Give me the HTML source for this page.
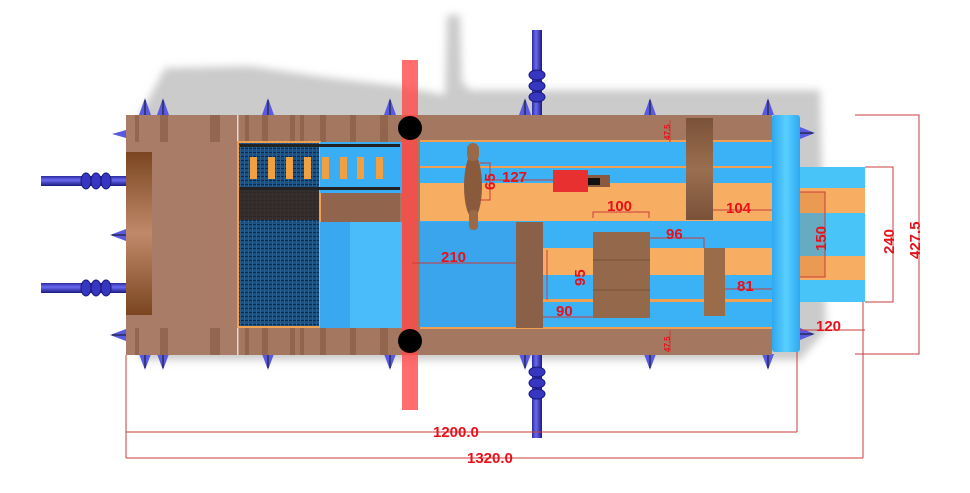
<!DOCTYPE html>
<html><head><meta charset="utf-8"><style>
html,body{margin:0;padding:0;background:#fff;width:970px;height:493px;overflow:hidden}
svg{display:block}
text{font-family:"Liberation Sans",sans-serif;font-weight:bold;fill:#e8101a}
</style></head><body>
<svg width="970" height="493" viewBox="0 0 970 493" xmlns="http://www.w3.org/2000/svg">
<defs>
<filter id="bl" x="-20%" y="-20%" width="140%" height="140%"><feGaussianBlur stdDeviation="4"/></filter>
<linearGradient id="pipeH" x1="0" y1="0" x2="0" y2="1"><stop offset="0" stop-color="#2a2aa0"/><stop offset=".4" stop-color="#6a6af0"/><stop offset="1" stop-color="#1a1a80"/></linearGradient>
<linearGradient id="pipeV" x1="0" y1="0" x2="1" y2="0"><stop offset="0" stop-color="#2a2aa0"/><stop offset=".4" stop-color="#6a6af0"/><stop offset="1" stop-color="#1a1a80"/></linearGradient>
<linearGradient id="curve" x1="0" y1="0" x2="0" y2="1"><stop offset="0" stop-color="#7a4520"/><stop offset=".5" stop-color="#c08a6a"/><stop offset="1" stop-color="#7a4520"/></linearGradient>
<linearGradient id="wall" x1="0" y1="0" x2="1" y2="0"><stop offset="0" stop-color="#2fa8f0"/><stop offset=".5" stop-color="#5ad0ff"/><stop offset="1" stop-color="#2fa8f0"/></linearGradient>
<linearGradient id="wood" x1="0" y1="0" x2="0" y2="1"><stop offset="0" stop-color="#7a5238"/><stop offset=".5" stop-color="#9a6e50"/><stop offset="1" stop-color="#7a5238"/></linearGradient>
<pattern id="net" width="4" height="4" patternUnits="userSpaceOnUse"><rect width="4" height="4" fill="#1d4f80"/><rect width="4" height="1" fill="#0c2a48"/><rect width="1" height="4" fill="#2a6090"/></pattern>
</defs>

<g filter="url(#bl)" fill="#cbcbcb">
<path d="M140 115 L165 68 L250 66 L330 78 L400 86 L445 95 L447 15 L460 15 L462 82 L470 90 L820 90 L826 330 L800 360 L140 360 Z"/>
</g>

<rect x="41" y="176" width="86" height="10" fill="url(#pipeH)"/>
<rect x="41" y="283" width="86" height="10" fill="url(#pipeH)"/>
<g fill="#3636c0" stroke="#1a1a80" stroke-width="1">
<ellipse cx="86" cy="181" rx="5" ry="8"/><ellipse cx="96" cy="181" rx="5" ry="8"/><ellipse cx="106" cy="181" rx="5" ry="8"/>
<ellipse cx="86" cy="288" rx="5" ry="8"/><ellipse cx="96" cy="288" rx="5" ry="8"/><ellipse cx="106" cy="288" rx="5" ry="8"/>
</g>

<rect x="532" y="30" width="10" height="90" fill="url(#pipeV)"/>
<rect x="532" y="350" width="10" height="88" fill="url(#pipeV)"/>
<g fill="#3636c0" stroke="#1a1a80" stroke-width="1">
<ellipse cx="537" cy="75" rx="8" ry="5"/><ellipse cx="537" cy="86" rx="8" ry="5"/><ellipse cx="537" cy="97" rx="8" ry="5"/>
<ellipse cx="537" cy="372" rx="8" ry="5"/><ellipse cx="537" cy="383" rx="8" ry="5"/><ellipse cx="537" cy="394" rx="8" ry="5"/>
</g>

<g fill="#5a5ae0">
<path d="M139 115 L145 98 L151 115Z"/><path d="M157 115 L163 98 L169 115Z"/><path d="M262 115 L268 98 L274 115Z"/><path d="M384 115 L390 98 L396 115Z"/><path d="M519 115 L525 98 L531 115Z"/><path d="M644 115 L650 98 L656 115Z"/><path d="M762 115 L768 98 L774 115Z"/>
<path d="M139 354 L145 370 L151 354Z"/><path d="M157 354 L163 370 L169 354Z"/><path d="M262 354 L268 370 L274 354Z"/><path d="M384 354 L390 370 L396 354Z"/><path d="M519 354 L525 370 L531 354Z"/><path d="M644 354 L650 370 L656 354Z"/><path d="M762 354 L768 370 L774 354Z"/>
<path d="M126 229 L110 235 L126 241Z"/><path d="M126 329 L110 335 L126 341Z"/><path d="M126 130 L112 134 L126 138Z"/>
<path d="M800 127 L815 133 L800 139Z"/><path d="M800 328 L815 334 L800 340Z"/>
</g>
<g stroke="#111" stroke-width="1">
<path d="M145 100V115M163 100V115M268 100V115M390 100V115M525 100V115M650 100V115M768 100V115"/>
<path d="M145 354V368M163 354V368M268 354V368M390 354V368M525 354V368M650 354V368M768 354V368"/>
<path d="M112 235H126M112 335H126M800 133H813M800 334H813"/>
</g>

<rect x="126" y="115" width="646" height="240" fill="#a47860"/>
<rect x="126" y="115" width="112" height="240" fill="#a87c66"/>
<g fill="#8a5e46" opacity=".7">
<rect x="135" y="115" width="4" height="27"/><rect x="160" y="115" width="8" height="27"/><rect x="210" y="115" width="10" height="27"/>
<rect x="245" y="115" width="4" height="27"/><rect x="262" y="115" width="6" height="27"/><rect x="290" y="115" width="5" height="27"/><rect x="300" y="115" width="4" height="27"/><rect x="320" y="115" width="6" height="27"/><rect x="350" y="115" width="6" height="27"/><rect x="380" y="115" width="8" height="27"/>
<rect x="135" y="328" width="4" height="27"/><rect x="160" y="328" width="8" height="27"/><rect x="210" y="328" width="10" height="27"/>
<rect x="245" y="328" width="4" height="27"/><rect x="262" y="328" width="6" height="27"/><rect x="290" y="328" width="5" height="27"/><rect x="300" y="328" width="4" height="27"/><rect x="320" y="328" width="6" height="27"/><rect x="350" y="328" width="6" height="27"/><rect x="380" y="328" width="8" height="27"/>
<rect x="320" y="193" width="80" height="29"/>
</g>
<rect x="237" y="115" width="1.5" height="240" fill="#e8d8d0"/>
<rect x="126" y="152" width="26" height="163" fill="url(#curve)"/>

<rect x="238" y="142" width="82" height="185" fill="url(#net)" stroke="#f0a050" stroke-width="2"/>
<rect x="239" y="190" width="80" height="30" fill="#3a2418" opacity=".8"/>
<rect x="320" y="142" width="82" height="51" fill="#3aaef4"/>
<rect x="320" y="222" width="82" height="106" fill="#3aa8f0"/>
<rect x="350" y="222" width="52" height="106" fill="#50c0fc" opacity=".8"/>
<g fill="#f0a040">
<rect x="250" y="157" width="7" height="22"/><rect x="268" y="157" width="7" height="22"/><rect x="286" y="157" width="7" height="22"/><rect x="304" y="157" width="7" height="22"/>
<rect x="322" y="157" width="7" height="22"/><rect x="340" y="157" width="7" height="22"/><rect x="357" y="157" width="7" height="22"/><rect x="376" y="157" width="7" height="22"/>
</g>
<g fill="#222"><rect x="240" y="144" width="160" height="3"/><rect x="240" y="187" width="160" height="3"/></g>

<rect x="420" y="142" width="352" height="186" fill="#3cb2f6"/>
<rect x="420" y="183" width="352" height="38" fill="#f8ae62"/>
<rect x="420" y="166" width="352" height="2" fill="#f0a050"/>
<rect x="543" y="248" width="229" height="27" fill="#f8ae62"/>
<rect x="543" y="299" width="229" height="3" fill="#f0a050"/>
<rect x="420" y="222" width="96" height="106" fill="#3aa4ec"/>
<rect x="420" y="115" width="352" height="27" fill="#a47860"/>
<rect x="420" y="328" width="352" height="27" fill="#a47860"/>
<rect x="420" y="140" width="352" height="2" fill="#f0a050"/>
<rect x="420" y="327" width="352" height="2" fill="#f0a050"/>
<rect x="686" y="118" width="27" height="102" fill="url(#wood)"/>
<rect x="516" y="222" width="27" height="106" fill="#8a6048"/>
<rect x="593" y="232" width="57" height="86" fill="#94684a"/>
<g stroke="#7a5238" stroke-width="1"><line x1="593" y1="260" x2="650" y2="260"/><line x1="593" y1="290" x2="650" y2="290"/></g>
<rect x="704" y="248" width="21" height="68" fill="#9a6c4a"/>
<rect x="553" y="170" width="35" height="22" fill="#e83030"/>
<rect x="588" y="175" width="22" height="12" fill="#8a5a40"/>
<rect x="588" y="178" width="12" height="7" fill="#111"/>
<ellipse cx="473" cy="186" rx="9" ry="32" fill="#8a5a3c"/>
<rect x="467" y="143" width="12" height="18" rx="6" fill="#9a6a48"/>
<rect x="469" y="210" width="9" height="20" rx="4" fill="#9a6a48"/>

<rect x="402" y="60" width="16" height="350" fill="#ff4848" opacity=".8"/>
<circle cx="410" cy="128" r="12" fill="#000"/>
<circle cx="410" cy="341" r="12" fill="#000"/>

<rect x="800" y="167" width="65" height="135" fill="#48c4f8"/>
<rect x="800" y="188" width="65" height="25" fill="#f8ae62"/>
<rect x="800" y="256" width="65" height="24" fill="#f8ae62"/>
<rect x="800" y="192" width="25" height="85" fill="#c06020" opacity=".25"/>
<rect x="772" y="115" width="28" height="237" fill="url(#wall)" rx="3"/>

<g stroke="#c83c3c" stroke-width="1" fill="none">
<path d="M126 355 V458 M797 352 V432 M863 302 V458 M126 432 H797 M126 458 H863"/>
<path d="M855 115 H919 V354 H855"/>
<path d="M865 167 H893 V302 H865"/>
<path d="M800 192 H825 V277 H800"/>
<path d="M800 330 H865"/>
<path d="M412 263 H516"/>
<path d="M543 317 H593 M547 250 V300 M593 218 V212 H649 V218 M650 238 H704 V248 M725 289 H772 M713 210 H772 M484 180 H553 M480 163 H490 V200 H480"/>
<path d="M670 120 V142 M670 330 V352"/>
</g>
<g font-size="15">
<text x="433" y="437">1200.0</text>
<text x="467" y="463">1320.0</text>
<text x="441" y="262">210</text>
<text x="502" y="182">127</text>
<text x="607" y="211">100</text>
<text x="726" y="213">104</text>
<text x="666" y="239">96</text>
<text x="737" y="291">81</text>
<text x="556" y="316">90</text>
<text x="816" y="331">120</text>
<text transform="translate(495,190) rotate(-90)">65</text>
<text transform="translate(585,286) rotate(-90)">95</text>
<text transform="translate(826,251) rotate(-90)">150</text>
<text transform="translate(894,254) rotate(-90)">240</text>
<text transform="translate(920,259) rotate(-90)">427.5</text>
</g>
<g font-size="8"><text transform="translate(670,140) rotate(-90)">47.5</text><text transform="translate(670,352) rotate(-90)">47.5</text></g>
</svg>
</body></html>
